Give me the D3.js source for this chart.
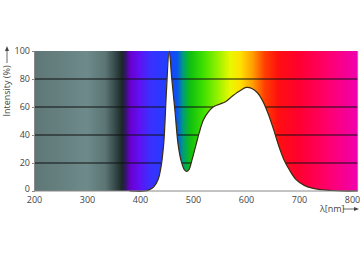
<!DOCTYPE html>
<html>
<head>
<meta charset="utf-8">
<script src="https://cdn.jsdelivr.net/npm/d3@7"></script>
<style>
  body { margin: 0; background: #fff; }
  text { font-family: "Open Sans", "Noto Sans", sans-serif; fill: #444; }
</style>
</head>
<body>
<svg id="chart" width="360" height="262"></svg>
<script>
// Spectrum data (wavelength in nm, relative intensity in %)
const wavelengths = [380, 410, 418, 426, 434, 440, 445, 450, 455, 460, 466, 472, 478, 484, 488, 492, 498, 505, 512, 520, 528, 538, 550, 562, 575, 590, 601, 612, 622, 632, 642, 652, 662, 672, 682, 695, 710, 725, 740, 760, 780, 811];
const intensity   = [0,   0,   1,   3,   8,   18,  35,  72,  100, 80,  57,  33,  21,  15,  14,  15,  22,  32,  42,  51,  56,  60,  62,  64,  68,  72,  74,  73,  70,  64,  55,  44,  32,  22,  15,  8,   4,   2,   1,   0.4, 0,   0];
const xTicks = [200, 300, 400, 500, 600, 700, 800];
const yTicks = [0, 20, 40, 60, 80, 100];

// background spectrum colour stops (nm -> colour)
const stopNm  = [200, 300, 335, 355, 366, 372, 382, 398, 420, 455, 470, 482, 495, 520, 545, 570, 590, 612, 635, 660, 700, 750, 811];
const stopCol = ["#5e7676", "#6e8a8a", "#5b7474", "#324545", "#1c2828", "#301860", "#6a00d0", "#6010f0", "#3a30ff", "#2040ff", "#0a55f0", "#00a070", "#10c010", "#40e000", "#90f000", "#e8f800", "#ffe000", "#ffa000", "#ff4000", "#ff1010", "#ff0030", "#ff0068", "#f000b0"];

const svg = d3.select("#chart");
const x = d3.scaleLinear().domain([200, 800]).range([34, 352]);
const y = d3.scaleLinear().domain([0, 100]).range([191, 51]);
const x0 = x(200), x1 = x(811);

// gradient
const grad = svg.append("defs").append("linearGradient")
    .attr("id", "spec")
    .attr("gradientUnits", "userSpaceOnUse")
    .attr("x1", x0).attr("x2", x1).attr("y1", 0).attr("y2", 0);
stopNm.forEach((nm, i) => {
    grad.append("stop")
        .attr("offset", (x(nm) - x0) / (x1 - x0))
        .attr("stop-color", stopCol[i]);
});

svg.append("rect")
    .attr("x", x0).attr("y", y(100))
    .attr("width", x1 - x0).attr("height", y(0) - y(100))
    .attr("fill", "url(#spec)");

// grid lines
svg.selectAll(".grid")
    .data(yTicks.filter(d => d > 0 && d < 100))
    .enter().append("line")
    .attr("x1", x0).attr("x2", x1)
    .attr("y1", d => y(d)).attr("y2", d => y(d))
    .attr("stroke", "#111").attr("stroke-width", 1);

// white area under the curve
const pts = wavelengths.map((w, i) => [w, intensity[i]]);
const area = d3.area()
    .x(d => x(d[0])).y0(y(0)).y1(d => y(d[1]))
    .curve(d3.curveCatmullRom.alpha(0.5));
const line = d3.line()
    .x(d => x(d[0])).y(d => y(d[1]))
    .curve(d3.curveCatmullRom.alpha(0.5));

svg.append("path").datum(pts).attr("d", area).attr("fill", "#fff");
svg.append("path").datum(pts).attr("d", line)
    .attr("fill", "none").attr("stroke", "#3a2c14").attr("stroke-width", 1.2);

// axes
const yAxis = svg.append("g")
    .attr("transform", `translate(${x0},0)`)
    .call(d3.axisLeft(y).tickValues(yTicks).tickSize(2).tickPadding(2));
const xAxis = svg.append("g")
    .attr("transform", `translate(0,${y(0)})`)
    .call(d3.axisBottom(x).tickValues(xTicks).tickSize(0).tickPadding(6));
[xAxis, yAxis].forEach(g => {
    g.select(".domain").attr("stroke", "#888");
    g.selectAll(".tick line").attr("stroke", "#888");
    g.selectAll("text").attr("font-size", 9).attr("fill", "#444")
        .style("font-family", '"Open Sans", sans-serif');
});
xAxis.select(".domain").attr("d", `M${x0},0H${x1}`);
// nudge the "0" label up so it clears the "200" label
yAxis.selectAll(".tick").filter(d => d === 0).select("text").attr("dy", "0.1em");

// right border
svg.append("line")
    .attr("x1", x1).attr("x2", x1).attr("y1", y(100)).attr("y2", y(0))
    .attr("stroke", "#aaa").attr("stroke-width", 0.6);

// axis titles with arrows
svg.append("text")
    .attr("transform", "translate(10,91) rotate(-90)")
    .attr("text-anchor", "middle")
    .attr("font-size", 9)
    .text("Intensity (%)");
svg.append("line")
    .attr("x1", 7).attr("x2", 7).attr("y1", 63).attr("y2", 49)
    .attr("stroke", "#444").attr("stroke-width", 0.8);
svg.append("path").attr("d", "M7,46 L5,51 L9,51 Z").attr("fill", "#444");

svg.append("text")
    .attr("x", 320).attr("y", 212)
    .attr("font-size", 9)
    .text("λ[nm]");
svg.append("line")
    .attr("x1", 343).attr("x2", 355).attr("y1", 209).attr("y2", 209)
    .attr("stroke", "#444").attr("stroke-width", 0.8);
svg.append("path").attr("d", "M359,209 L354,207 L354,211 Z").attr("fill", "#444");
</script>
</body>
</html>
